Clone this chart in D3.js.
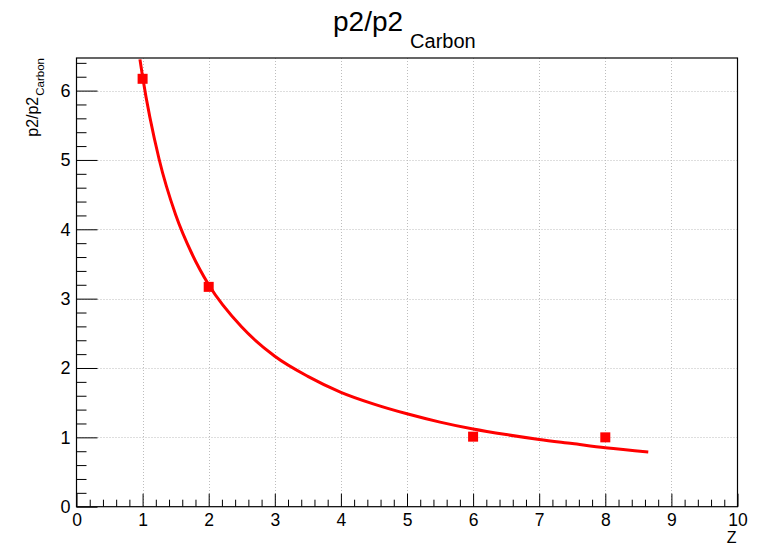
<!DOCTYPE html>
<html>
<head>
<meta charset="utf-8">
<script src="https://cdn.jsdelivr.net/npm/d3@7"></script>
<style>
  html, body { margin: 0; padding: 0; background: #fff; }
  svg { display: block; font-family: "Liberation Sans", Arial, Helvetica, sans-serif; }
</style>
</head>
<body>
<svg id="chart" width="766" height="545"></svg>
<script>
// ---- data ----
const zValues = [1, 2, 6, 8];
const ratioValues = [6.17, 3.17, 1.01, 1.0];

// fitted curve
const fitZ     = [0.96, 1.0, 1.25, 1.5, 1.75, 2.0, 2.5, 3.0, 3.5, 4.0, 4.5, 5.0, 5.5, 6.0, 6.5, 7.0, 7.5, 8.0, 8.65];
const fitRatio = [6.45, 6.20, 5.01, 4.21, 3.64, 3.20, 2.59, 2.17, 1.88, 1.65, 1.48, 1.34, 1.22, 1.12, 1.04, 0.97, 0.91, 0.85, 0.79];

const xTicks = [0, 1, 2, 3, 4, 5, 6, 7, 8, 9, 10];
const yTicks = [0, 1, 2, 3, 4, 5, 6];
const xDomain = [0, 10];
const yDomain = [0, 6.47];

// ---- layout ----
const L = 76.5, R = 737.5, T = 58, B = 506.7;
const svg = d3.select("#chart");
const x = d3.scaleLinear().domain(xDomain).range([L, R]);
const y = d3.scaleLinear().domain(yDomain).range([B, T]);

// grid
const grid = svg.append("g").attr("stroke", "#bdbdbd").attr("stroke-width", 1).attr("stroke-dasharray", "1,2");
grid.selectAll("line.gx").data(xTicks.filter(d => d > xDomain[0] && d < xDomain[1])).join("line")
  .attr("x1", d => Math.round(x(d)) + 0.5).attr("x2", d => Math.round(x(d)) + 0.5)
  .attr("y1", T).attr("y2", B);
grid.selectAll("line.gy").data(yTicks.filter(d => d > yDomain[0] && d < yDomain[1])).join("line")
  .attr("y1", d => Math.round(y(d)) + 0.5).attr("y2", d => Math.round(y(d)) + 0.5)
  .attr("x1", L).attr("x2", R);

// minor ticks
const xMinor = d3.range(0, 10.001, 0.2).map(v => +v.toFixed(1)).filter(v => Math.abs(v - Math.round(v)) > 1e-6);
const yMinor = d3.range(0, 6.47, 0.2).map(v => +v.toFixed(1)).filter(v => Math.abs(v - Math.round(v)) > 1e-6);

const axStyle = size => g => {
  g.select(".domain").remove();
  g.selectAll("line").attr("stroke", "#000").attr("stroke-width", 1);
  g.selectAll("text").attr("fill", "#000").attr("font-size", size + "px")
    .attr("font-family", "\"Liberation Sans\", Arial, Helvetica, sans-serif");
};

svg.append("g").attr("transform", `translate(0,${B})`)
  .call(d3.axisBottom(x).tickValues(xMinor).tickSize(-7).tickFormat(""))
  .call(axStyle(17));
svg.append("g").attr("transform", `translate(0,${B})`)
  .call(d3.axisBottom(x).tickValues(xTicks).tickSize(-13).tickPadding(6.5).tickFormat(d3.format("d")))
  .call(axStyle(17.5));
svg.append("g").attr("transform", `translate(${L},0)`)
  .call(d3.axisLeft(y).tickValues(yMinor).tickSize(-10).tickFormat(""))
  .call(axStyle(18));
svg.append("g").attr("transform", `translate(${L},0)`)
  .call(d3.axisLeft(y).tickValues(yTicks).tickSize(-21).tickPadding(6).tickFormat(d3.format("d")))
  .call(axStyle(18));

// frame
svg.append("rect").attr("x", L).attr("y", T).attr("width", R - L).attr("height", B - T)
  .attr("fill", "none").attr("stroke", "#000").attr("stroke-width", 1.2);

// clip
svg.append("clipPath").attr("id", "clip").append("rect")
  .attr("x", L).attr("y", T).attr("width", R - L).attr("height", B - T);

// fit curve
const fitData = fitZ.map((z, i) => [z, fitRatio[i]]);
svg.append("path").datum(fitData)
  .attr("clip-path", "url(#clip)")
  .attr("fill", "none").attr("stroke", "#ff0000").attr("stroke-width", 3)
  .attr("d", d3.line().x(d => x(d[0])).y(d => y(d[1])).curve(d3.curveMonotoneX));

// markers
const ms = 10;
svg.selectAll("rect.pt").data(zValues.map((z, i) => [z, ratioValues[i]])).join("rect")
  .attr("class", "pt")
  .attr("x", d => x(d[0]) - ms / 2).attr("y", d => y(d[1]) - ms / 2)
  .attr("width", ms).attr("height", ms).attr("fill", "#ff0000");

// title
const title = svg.append("text").attr("x", 333).attr("y", 31).attr("fill", "#000");
title.append("tspan").attr("font-size", "28px").text("p2/p2");
title.append("tspan").attr("font-size", "20px").attr("dy", 17).attr("dx", 7).text("Carbon");

// y axis title
const yt = svg.append("text").attr("transform", `translate(38,${T}) rotate(-90)`)
  .attr("text-anchor", "end").attr("fill", "#000");
yt.append("tspan").attr("font-size", "16px").text("p2/p2");
yt.append("tspan").attr("font-size", "11.5px").attr("dy", 6).attr("dx", 1).text("Carbon");

// x axis title
svg.append("text").attr("x", R - 1).attr("y", 543).attr("text-anchor", "end")
  .attr("font-size", "16px").attr("fill", "#000").text("Z");
</script>
</body>
</html>
